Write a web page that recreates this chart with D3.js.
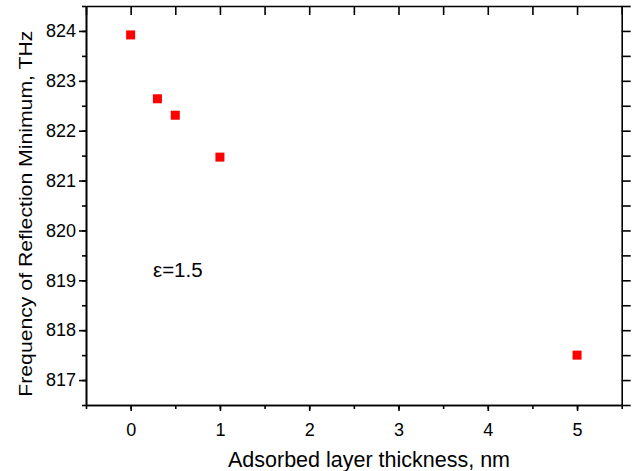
<!DOCTYPE html>
<html>
<head>
<meta charset="utf-8">
<script src="https://cdn.jsdelivr.net/npm/d3@7"></script>
<style>
  body { margin: 0; background: #fff; }
  text { font-family: "Liberation Sans", Arial, sans-serif; }
</style>
</head>
<body>
<div id="chart"></div>
<script>
const thickness = [0, 0.3, 0.5, 1, 5]; // nm
const frequency = [823.92, 822.64, 822.31, 821.47, 817.5]; // THz
const xTicks = [0, 1, 2, 3, 4, 5];
const yTicks = [817, 818, 819, 820, 821, 822, 823, 824];

const width = 632,
  height = 471,
  margin = { top: 6, right: 10.3, bottom: 66, left: 86 };

const x = d3.scaleLinear().domain([-0.5, 5.5]).range([margin.left, width - margin.right]);
const y = d3.scaleLinear().domain([816.5, 824.5]).range([height - margin.bottom, margin.top]);

const svg = d3.select("#chart")
  .append("svg")
  .attr("width", width)
  .attr("height", height);

const xMinor = d3.range(-0.5, 5.51, 0.5);
const yMinor = d3.range(816.5, 824.51, 0.5);

// bottom axis: major + minor ticks outward
svg.append("g")
  .attr("transform", `translate(0,${height - margin.bottom})`)
  .call(d3.axisBottom(x).tickValues(xMinor).tickSize(4).tickFormat("").tickSizeOuter(0));
svg.append("g")
  .attr("class", "xaxis")
  .attr("transform", `translate(0,${height - margin.bottom})`)
  .call(d3.axisBottom(x).tickValues(xTicks).tickSize(6).tickPadding(12).tickFormat(d3.format("d")).tickSizeOuter(0));

// left axis
svg.append("g")
  .attr("transform", `translate(${margin.left},0)`)
  .call(d3.axisLeft(y).tickValues(yMinor).tickSize(4).tickFormat("").tickSizeOuter(0));
svg.append("g")
  .attr("class", "yaxis")
  .attr("transform", `translate(${margin.left},0)`)
  .call(d3.axisLeft(y).tickValues(yTicks).tickSize(7).tickPadding(3).tickFormat(d3.format("d")).tickSizeOuter(0));

// top axis: ticks inward
svg.append("g")
  .attr("transform", `translate(0,${margin.top})`)
  .call(d3.axisTop(x).tickValues(xMinor).tickSize(-9).tickFormat("").tickSizeOuter(0));

// right axis: ticks outward
svg.append("g")
  .attr("transform", `translate(${width - margin.right},0)`)
  .call(d3.axisRight(y).tickValues(yMinor).tickSize(9).tickFormat("").tickSizeOuter(0));

svg.selectAll(".domain, .tick line")
  .attr("stroke", "#000")
  .attr("stroke-width", 1.6);

svg.selectAll(".xaxis text, .yaxis text")
  .attr("font-size", 18)
  .attr("fill", "#000");

// points
const size = 9;
svg.append("g")
  .selectAll("rect")
  .data(thickness)
  .join("rect")
  .attr("x", d => x(d) - size / 2)
  .attr("y", (d, i) => y(frequency[i]) - size / 2)
  .attr("width", size)
  .attr("height", size)
  .attr("fill", "#ff0000");

// labels
svg.append("text")
  .attr("x", 369)
  .attr("y", 467)
  .attr("text-anchor", "middle")
  .attr("font-size", 21.5)
  .text("Adsorbed layer thickness, nm");

svg.append("text")
  .attr("transform", `translate(31.5,213.7) rotate(-90)`)
  .attr("text-anchor", "middle")
  .attr("font-size", 18)
  .attr("textLength", 366)
  .attr("lengthAdjust", "spacingAndGlyphs")
  .text("Frequency of Reflection Minimum, THz");

svg.append("text")
  .attr("x", 153)
  .attr("y", 277)
  .attr("font-size", 20.5)
  .text("ε=1.5");
</script>
</body>
</html>
